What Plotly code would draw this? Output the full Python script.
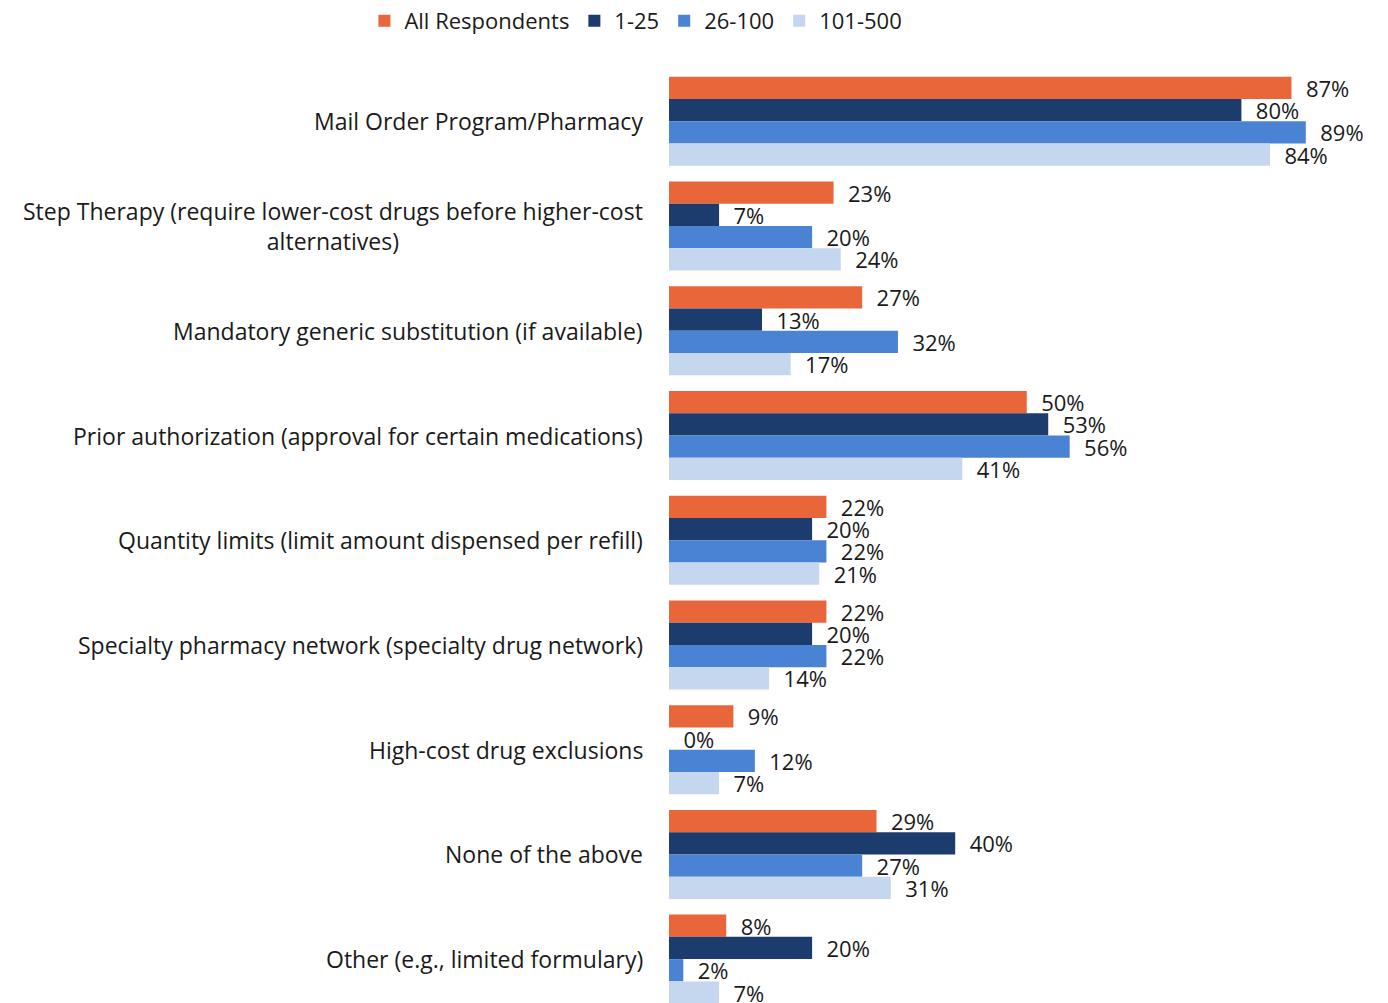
import plotly.graph_objects as go

categories = [
    "Mail Order Program/Pharmacy",
    "Step Therapy (require lower-cost drugs before higher-cost alternatives)",
    "Mandatory generic substitution (if available)",
    "Prior authorization (approval for certain medications)",
    "Quantity limits (limit amount dispensed per refill)",
    "Specialty pharmacy network (specialty drug network)",
    "High-cost drug exclusions",
    "None of the above",
    "Other (e.g., limited formulary)",
]
category_labels = [
    "Mail Order Program/Pharmacy",
    "Step Therapy (require lower-cost drugs before higher-cost<br>alternatives)",
    "Mandatory generic substitution (if available)",
    "Prior authorization (approval for certain medications)",
    "Quantity limits (limit amount dispensed per refill)",
    "Specialty pharmacy network (specialty drug network)",
    "High-cost drug exclusions",
    "None of the above",
    "Other (e.g., limited formulary)",
]
series_names = ["All Respondents", "1-25", "26-100", "101-500"]
all_respondents = [87, 23, 27, 50, 22, 22, 9, 29, 8]
size_1_25 = [80, 7, 13, 53, 20, 20, 0, 40, 20]
size_26_100 = [89, 20, 32, 56, 22, 22, 12, 27, 2]
size_101_500 = [84, 24, 17, 41, 21, 14, 7, 31, 7]
series_values = [all_respondents, size_1_25, size_26_100, size_101_500]
colors = ["#E8663A", "#1D3C6E", "#4A82D4", "#C4D7EF"]

FONT = "Open Sans"
TXT = "#1a1a1a"

fig = go.Figure()
for name, vals, col in zip(series_names, series_values, colors):
    fig.add_trace(go.Bar(
        y=categories, x=vals, name=name, orientation="h",
        marker=dict(color=col, line=dict(width=0)),
        text=["\u00a0\u00a0" + f"{v}%" for v in vals],
        textposition="outside", cliponaxis=False, constraintext="none",
        textfont=dict(family=FONT, size=22, color=TXT),
        hoverinfo="skip",
    ))

for cat, lab in zip(categories, category_labels):
    fig.add_annotation(
        x=0, xref="paper", y=cat, yref="y", text=lab, showarrow=False,
        xanchor="right", yanchor="middle", xshift=-24, align="center",
        font=dict(family=FONT, size=23, color=TXT),
    )

# page body has an 8px margin, so the figure is 8px smaller than the window
fig.update_layout(
    width=1380, height=995,
    margin=dict(l=661, r=10, t=61, b=0),
    paper_bgcolor="white", plot_bgcolor="white",
    barmode="group", bargap=0.15, bargroupgap=0,
    showlegend=True,
    legend=dict(orientation="h", xref="container", x=0.455, xanchor="center",
                yref="container", y=1 - 13 / 995, yanchor="middle",
                font=dict(family=FONT, size=22, color=TXT), traceorder="normal",
                itemclick=False),
    font=dict(family=FONT, size=22, color=TXT),
)
fig.update_xaxes(range=[0, 709 / 7.155], visible=False, fixedrange=True)
fig.update_yaxes(type="category", categoryorder="array", categoryarray=categories,
                 range=[8.419, -0.5], showticklabels=False, showgrid=False,
                 zeroline=False, showline=False, ticks="", fixedrange=True)

fig.write_html("out.html")
